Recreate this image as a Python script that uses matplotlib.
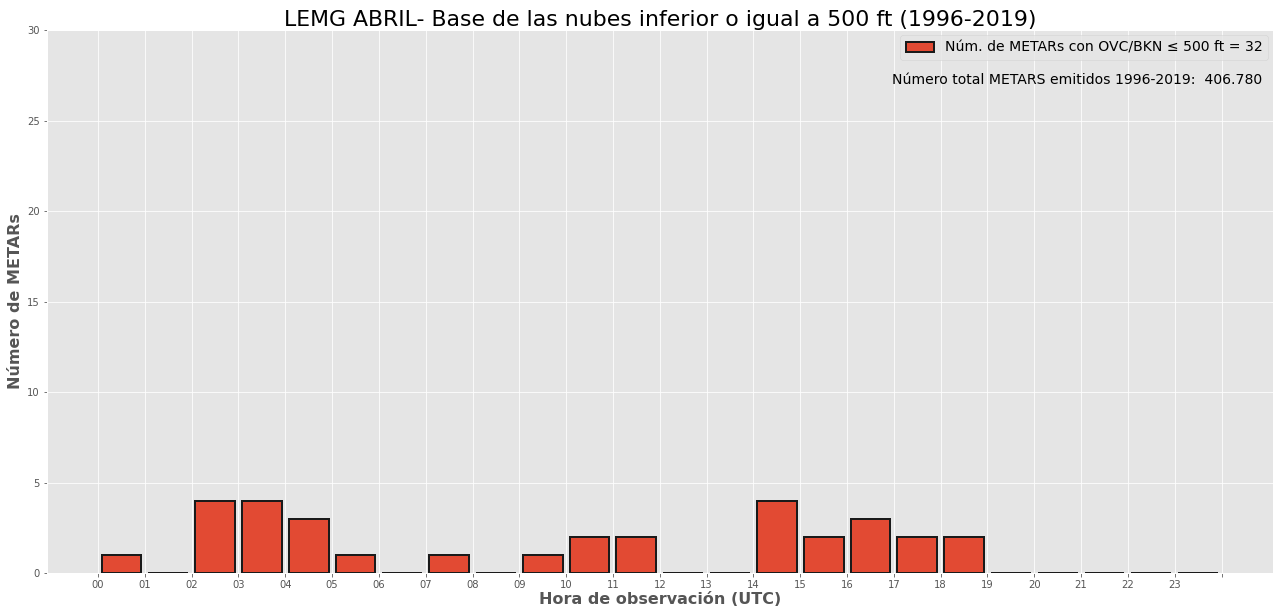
import matplotlib
matplotlib.use("Agg")
import matplotlib.pyplot as plt
import numpy as np

plt.style.use('ggplot')

horas = ['00', '01', '02', '03', '04', '05', '06', '07', '08', '09', '10', '11',
         '12', '13', '14', '15', '16', '17', '18', '19', '20', '21', '22', '23']
n_metars = [1, 0, 4, 4, 3, 1, 0, 1, 0, 1, 2, 2,
            0, 0, 4, 2, 3, 2, 2, 0, 0, 0, 0, 0]
total = 32
total_emitidos = '406.780'

fig = plt.figure(figsize=(1280 / 72, 616 / 72), dpi=72)
ax = fig.add_axes([47 / 1280, 1 - 573 / 616, 1226 / 1280, 543 / 616])

x = np.arange(len(horas))
ax.bar(x + 0.5, n_metars, width=0.85, color='#E24A33', edgecolor='#1a1a1a', linewidth=2,
       label='Núm. de METARs con OVC/BKN ≤ 500 ft = {}'.format(total))

ax.set_xticks(np.arange(len(horas) + 1))
ax.set_xticklabels(horas + [''])
ax.set_xlim(-1.09, 25.1)
ax.set_ylim(0, 30)
ax.tick_params(labelsize=10)

ax.set_title('LEMG ABRIL- Base de las nubes inferior o igual a 500 ft (1996-2019)', fontsize=22, pad=4)
ax.set_xlabel('Hora de observación (UTC)', fontsize=16, fontweight='bold', labelpad=2)
ax.set_ylabel('Número de METARs', fontsize=16, fontweight='bold')

ax.legend(loc='upper right', fontsize=14, borderaxespad=0.35)
ax.text(0.991, 0.921, 'Número total METARS emitidos 1996-2019:  {}'.format(total_emitidos),
        transform=ax.transAxes, ha='right', va='top', fontsize=14)

fig.savefig('out.png', dpi=72)
